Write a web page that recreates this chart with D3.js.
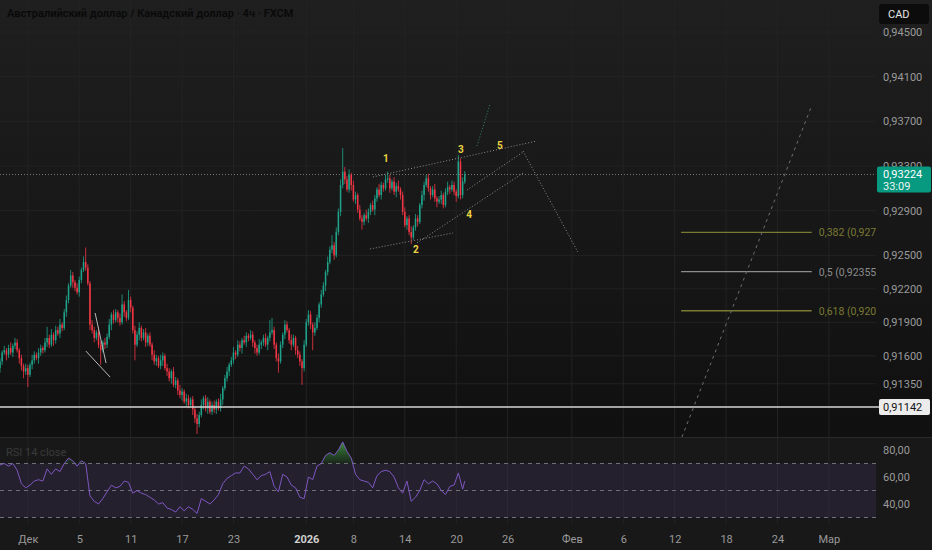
<!DOCTYPE html>
<html>
<head>
<meta charset="utf-8">
<title>AUDCAD 4h</title>
<script src="https://d3js.org/d3.v7.min.js"></script>
<style>
  html, body { margin: 0; background: #141414; overflow: hidden; }
  text { font-family: Roboto, "Noto Sans", sans-serif; }
</style>
</head>
<body>
<div id="chart"></div>
<script>
// 4h bars, bar 0 = first bar at the left edge of the view
const firstOpen = 0.9149;
const closes = [
  0.9155,0.9163,0.9165,0.9161,0.9167,0.9163,0.9169,0.9172,0.9165,0.9158,
  0.9151,0.9146,0.9149,0.9143,0.9152,0.9156,0.9161,0.9158,0.9163,0.9167,
  0.9165,0.9172,0.9176,0.9170,0.9179,0.9174,0.9183,0.9180,0.9188,0.9185,
  0.9199,0.9210,0.9223,0.9232,0.9226,0.9221,0.9217,0.9228,0.9237,0.9244,
  0.9239,0.9225,0.9188,0.9183,0.9176,0.9181,0.9170,0.9165,0.9172,0.9170,
  0.9177,0.9188,0.9197,0.9192,0.9199,0.9194,0.9190,0.9206,0.9199,0.9194,
  0.9210,0.9203,0.9183,0.9170,0.9179,0.9185,0.9176,0.9181,0.9172,0.9178,
  0.9170,0.9161,0.9155,0.9158,0.9151,0.9156,0.9160,0.9149,0.9146,0.9140,
  0.9146,0.9134,0.9138,0.9129,0.9125,0.9128,0.9119,0.9122,0.9116,0.9121,
  0.9112,0.9104,0.9099,0.9107,0.9116,0.9122,0.9113,0.9119,0.9110,0.9116,
  0.9112,0.9119,0.9113,0.9121,0.9131,0.9140,0.9146,0.9152,0.9156,0.9163,
  0.9161,0.9170,0.9167,0.9174,0.9172,0.9178,0.9176,0.9179,0.9172,0.9167,
  0.9163,0.9170,0.9172,0.9176,0.9170,0.9176,0.9181,0.9183,0.9170,0.9158,
  0.9155,0.9170,0.9179,0.9188,0.9183,0.9174,0.9170,0.9176,0.9165,0.9161,
  0.9155,0.9149,0.9170,0.9190,0.9197,0.9188,0.9181,0.9185,0.9194,0.9206,
  0.9215,0.9223,0.9235,0.9244,0.9255,0.9259,0.9250,0.9271,0.9289,0.9313,
  0.9325,0.9318,0.9309,0.9322,0.9313,0.9300,0.9304,0.9291,0.9283,0.9280,
  0.9286,0.9283,0.9289,0.9295,0.9291,0.9301,0.9309,0.9304,0.9313,0.9310,
  0.9318,0.9319,0.9310,0.9316,0.9307,0.9312,0.9309,0.9304,0.9289,0.9277,
  0.9283,0.9271,0.9266,0.9275,0.9283,0.9280,0.9295,0.9304,0.9313,0.9319,
  0.9310,0.9304,0.9309,0.9301,0.9298,0.9300,0.9304,0.9295,0.9307,0.9311,
  0.9309,0.9313,0.9307,0.9303,0.9334,0.9304,0.9316,0.93224
];
// wick lengths in pips above / below the body
const wickHi = [
  3,2,4,2,3,5,2,4,3,2,3,2,4,3,2,5,3,2,4,3,
  2,4,10,3,5,2,4,3,5,2,3,4,2,5,3,2,4,3,2,5,
  13,3,2,4,3,2,5,3,2,4,3,5,2,4,3,2,4,9,3,2,
  9,3,2,4,3,5,2,3,4,2,3,2,4,3,2,5,3,2,4,3,
  2,4,3,2,5,3,2,4,3,2,3,2,4,3,5,2,3,4,2,3,
  4,2,3,5,2,3,4,2,3,5,2,4,3,2,4,3,2,4,3,2,
  3,5,2,3,4,2,11,11,3,2,4,3,2,4,3,2,5,3,2,4,
  3,2,4,3,4,3,2,5,3,2,4,3,2,5,3,9,3,4,3,5,
  21,4,3,5,2,4,3,2,4,3,2,5,3,2,4,3,2,5,3,2,
  4,6,3,2,4,3,5,2,3,4,2,3,5,2,4,3,2,4,3,3,
  4,2,3,5,2,3,4,2,3,5,2,4,3,2,6,3,4,3
];
const wickLo = [
  4,3,2,5,3,2,4,3,2,5,4,6,3,11,2,4,3,2,5,3,
  3,2,4,3,2,5,3,2,4,3,2,4,3,2,5,3,2,4,3,2,
  3,2,5,3,4,2,3,13,2,4,3,2,5,3,2,4,3,2,4,3,
  2,4,3,14,2,5,3,2,4,3,2,5,3,4,2,3,5,2,4,3,
  5,2,3,4,3,5,2,4,3,2,5,4,9,3,2,4,3,5,2,3,
  3,4,2,3,5,2,3,4,2,3,4,2,3,5,2,4,3,2,4,5,
  3,2,4,3,2,5,3,2,4,3,10,2,3,4,2,3,5,2,4,3,
  4,15,3,2,3,4,16,3,2,4,3,2,5,3,2,3,4,2,3,4,
  3,4,2,3,5,2,4,3,2,7,3,2,4,3,2,5,3,2,4,3,
  2,3,4,2,3,5,2,4,3,2,4,3,6,2,3,4,2,3,5,2,
  3,4,2,3,5,2,4,3,2,3,4,2,3,5,2,4,3,2
];

// RSI(14) readings: [bar, value]
const rsiPoints = [
  [0,69],[2,70],[4,68],[6,70],[8,65],[10,55],[12,52],[14,54],[16,57],[18,58],
  [20,57],[22,66],[24,62],[26,66],[28,64],[30,70],[32,74],[34,72],[36,68],[38,72],
  [40,70],[42,46],[44,42],[46,40],[48,44],[50,49],[52,54],[54,52],[56,53],[58,57],
  [60,56],[62,48],[64,50],[66,48],[68,47],[70,45],[72,43],[74,40],[76,41],[78,37],
  [80,36],[82,34],[84,38],[86,35],[88,38],[90,36],[92,33],[94,44],[96,42],[98,40],
  [100,43],[102,47],[104,55],[106,59],[108,61],[110,63],[112,63],[114,68],[116,66],[118,62],
  [120,58],[122,61],[124,62],[126,64],[128,53],[130,49],[132,62],[134,60],[136,54],[138,52],
  [140,45],[142,44],[144,60],[146,58],[148,68],[150,70],[152,76],[154,78],[156,76],[158,80],
  [160,86],[162,79],[164,74],[166,62],[168,58],[170,57],[172,56],[174,52],[176,61],[178,64],
  [180,65],[182,64],[184,60],[186,52],[188,48],[190,57],[192,42],[194,45],[196,50],[198,58],
  [200,55],[202,57],[204,55],[206,50],[208,47],[210,53],[212,54],[214,63],[216,51],[217,57]
];

const priceTicks = [0.945, 0.941, 0.937, 0.933, 0.929, 0.925, 0.922, 0.919, 0.916, 0.9135];
const rsiTicks = [80, 60, 40];
const rsiLevels = [70, 50, 30];
const timeTicks = [
  [13,"Дек"],[37,"5"],[61,"11"],[85,"17"],[109,"23"],[143,"2026"],[165,"8"],[189,"14"],
  [213,"20"],[237,"26"],[267,"Фев"],[291,"6"],[315,"12"],[339,"18"],[363,"24"],[387,"Мар"]
];

const title = "Австралийский доллар / Канадский доллар · 4ч · FXCM";
const currency = "CAD";
const lastPrice = 0.93224;
const countdown = "33:09";
const supportPrice = 0.91142;

const fibLevels = [
  {ratio: "0,382", price: 0.92706, color: "#7b7a33"},
  {ratio: "0,5", price: 0.92355, color: "#8c8c8c"},
  {ratio: "0,618", price: 0.92004, color: "#7b7a33"}
];
const fibFrom = 318, fibTo = 379;

// wave marks: [text, bar, price]
const waveLabels = [
  ["1", 180.2, 0.93372], ["2", 194.2, 0.92557], ["3", 215.2, 0.93452],
  ["4", 219.0, 0.92870], ["5", 233.4, 0.93488]
];
// drawn lines: [bar1, price1, bar2, price2, kind]
const drawings = [
  [172.7, 0.92557, 211.5, 0.92700, "dot"],
  [194.7, 0.92611, 244.2, 0.93237, "dot"],
  [218.0, 0.93085, 244.2, 0.93425, "dot"],
  [174.1, 0.93202, 250.7, 0.93524, "dot"],
  [244.2, 0.93434, 269.8, 0.92530, "dot"],
  [222.7, 0.93479, 228.8, 0.93855, "green"],
  [318.4, 0.90873, 379.1, 0.93846, "dash"],
  [40.1, 0.91643, 51.4, 0.91410, "solid"],
  [44.4, 0.91984, 49.5, 0.91536, "solid"]
];

const W = 932, H = 550;
const plotW = 876, mainBottom = 437, rsiBottom = 524;

const ru = d3.formatLocale({decimal: ",", thousands: " ", grouping: [3], currency: ["", ""]});
const f5 = ru.format(".5f"), f2 = ru.format(".2f");

const svg = d3.select("#chart").append("svg")
  .attr("width", W).attr("height", H);

const defs = svg.append("defs");
const bg = defs.append("linearGradient").attr("id", "bg").attr("x1", 0).attr("y1", 0).attr("x2", 0).attr("y2", 1);
bg.append("stop").attr("offset", "0%").attr("stop-color", "#1f1f1f");
bg.append("stop").attr("offset", "100%").attr("stop-color", "#101010");
const ob = defs.append("linearGradient").attr("id", "ob").attr("gradientUnits", "userSpaceOnUse")
  .attr("x1", 0).attr("x2", 0).attr("y1", mainBottom).attr("y2", 0);
defs.append("clipPath").attr("id", "mainClip").append("rect")
  .attr("x", 0).attr("y", 0).attr("width", plotW).attr("height", mainBottom);
defs.append("clipPath").attr("id", "rsiClip").append("rect")
  .attr("x", 0).attr("y", mainBottom).attr("width", plotW).attr("height", rsiBottom - mainBottom);

svg.append("rect").attr("width", W).attr("height", mainBottom).attr("fill", "url(#bg)");
svg.append("rect").attr("y", mainBottom).attr("width", W).attr("height", H - mainBottom).attr("fill", "#181818");

const x = d3.scaleLinear().domain([0, 409]).range([0, plotW]);
const y = d3.scaleLinear().domain([supportPrice, 0.945]).range([407, 32]);
const yr = d3.scaleLinear().domain([30, 80]).range([517.5, 450]);

// overbought fill: dark at the 70 line, brighter green towards the top
const off = v => (yr(v) - mainBottom + mainBottom) / mainBottom;
ob.attr("y1", yr(70)).attr("y2", yr(88));
ob.append("stop").attr("offset", 0).attr("stop-color", "#2e7d32").attr("stop-opacity", 0.15);
ob.append("stop").attr("offset", 1).attr("stop-color", "#4caf50").attr("stop-opacity", 0.9);

// grid
svg.append("g").selectAll("line").data(priceTicks).join("line")
  .attr("x1", 0).attr("x2", plotW).attr("y1", d => y(d)).attr("y2", d => y(d))
  .attr("stroke", "#232323");
svg.append("g").selectAll("line").data(timeTicks).join("line")
  .attr("x1", d => x(d[0])).attr("x2", d => x(d[0])).attr("y1", 0).attr("y2", rsiBottom)
  .attr("stroke", "#232323");

svg.append("line").attr("x1", 0).attr("x2", W).attr("y1", mainBottom + 0.5).attr("y2", mainBottom + 0.5)
  .attr("stroke", "#2a2a2a");

// title watermark
svg.append("text").attr("x", 7).attr("y", 17).text(title)
  .attr("font-size", 11).attr("font-weight", 600).attr("fill", "#090909");

const main = svg.append("g").attr("clip-path", "url(#mainClip)");

// fib levels
const fib = main.append("g");
fib.selectAll("line").data(fibLevels).join("line")
  .attr("x1", x(fibFrom)).attr("x2", x(fibTo)).attr("y1", d => y(d.price)).attr("y2", d => y(d.price))
  .attr("stroke", d => d.color).attr("stroke-width", 1.3);
fib.selectAll("text").data(fibLevels).join("text")
  .attr("x", x(fibTo) + 7).attr("y", d => y(d.price) + 4)
  .attr("fill", d => d.color).attr("font-size", 10.5)
  .text(d => `${d.ratio} (${f5(d.price)})`);

// price lines
main.append("line").attr("x1", 0).attr("x2", plotW).attr("y1", y(lastPrice)).attr("y2", y(lastPrice))
  .attr("stroke", "#6f7a78").attr("stroke-dasharray", "1,2");
svg.append("line").attr("x1", 0).attr("x2", 880).attr("y1", y(supportPrice)).attr("y2", y(supportPrice))
  .attr("stroke", "#d6d6d6").attr("stroke-width", 1.6);

// candles
const candles = closes.map((c, i) => {
  const o = i ? closes[i - 1] : firstOpen;
  return {i, o, c, h: Math.max(o, c) + wickHi[i] * 1e-4, l: Math.min(o, c) - wickLo[i] * 1e-4};
});
const col = d => d.c >= d.o ? "#1fa38a" : "#f23645";
const cg = main.append("g");
cg.selectAll("line").data(candles).join("line")
  .attr("x1", d => x(d.i)).attr("x2", d => x(d.i))
  .attr("y1", d => y(d.h)).attr("y2", d => y(d.l))
  .attr("stroke", col).attr("stroke-width", 0.8);
cg.selectAll("rect").data(candles).join("rect")
  .attr("x", d => x(d.i) - 0.75).attr("width", 1.5)
  .attr("y", d => y(Math.max(d.o, d.c)))
  .attr("height", d => Math.max(1, Math.abs(y(d.o) - y(d.c))))
  .attr("fill", col);

// drawings
const dstyle = {
  dot: {stroke: "#8d8d8d", dash: "1,2", w: 1},
  green: {stroke: "#2f8a66", dash: "1,2", w: 1},
  dash: {stroke: "#6e6e6e", dash: "3,4", w: 1},
  solid: {stroke: "#b8b8b8", dash: null, w: 1}
};
main.append("g").selectAll("line").data(drawings).join("line")
  .attr("x1", d => x(d[0])).attr("y1", d => y(d[1]))
  .attr("x2", d => x(d[2])).attr("y2", d => y(d[3]))
  .attr("stroke", d => dstyle[d[4]].stroke)
  .attr("stroke-dasharray", d => dstyle[d[4]].dash)
  .attr("stroke-width", d => dstyle[d[4]].w);

main.append("g").selectAll("text").data(waveLabels).join("text")
  .attr("x", d => x(d[1])).attr("y", d => y(d[2]) + 4)
  .attr("text-anchor", "middle").attr("font-size", 10).attr("font-weight", 700)
  .attr("fill", "#ecd444").text(d => d[0]);

// RSI pane
const rsi = svg.append("g").attr("clip-path", "url(#rsiClip)");
rsi.append("rect").attr("x", 0).attr("width", plotW)
  .attr("y", yr(70)).attr("height", yr(30) - yr(70)).attr("fill", "rgba(126,87,194,0.12)");
rsi.selectAll("line.lvl").data(rsiLevels).join("line").attr("class", "lvl")
  .attr("x1", 0).attr("x2", plotW).attr("y1", d => yr(d)).attr("y2", d => yr(d))
  .attr("stroke", "#6f6f78").attr("stroke-dasharray", "4,4");
rsi.append("path").datum(rsiPoints)
  .attr("d", d3.area().x(d => x(d[0])).y0(yr(70)).y1(d => yr(Math.max(70, d[1]))))
  .attr("fill", "url(#ob)");
rsi.append("path").datum(rsiPoints)
  .attr("d", d3.line().x(d => x(d[0])).y(d => yr(d[1])))
  .attr("fill", "none").attr("stroke", "#7e57c2").attr("stroke-width", 1);
svg.append("text").attr("x", 6).attr("y", 456).text("RSI 14 close")
  .attr("font-size", 11).attr("fill", "#3a3a3a");

// price axis
const pAxis = svg.append("g").attr("transform", `translate(${plotW},0)`)
  .call(d3.axisRight(y).tickValues(priceTicks).tickFormat(f5).tickSize(0).tickPadding(7));
pAxis.select(".domain").remove();
pAxis.selectAll("text").attr("fill", "#9a9a9a").attr("font-size", 11).attr("font-family", "Roboto, sans-serif");

const rAxis = svg.append("g").attr("transform", `translate(${plotW},0)`)
  .call(d3.axisRight(yr).tickValues(rsiTicks).tickFormat(f2).tickSize(0).tickPadding(7));
rAxis.select(".domain").remove();
rAxis.selectAll("text").attr("fill", "#9a9a9a").attr("font-size", 11).attr("font-family", "Roboto, sans-serif");

// time axis
const tAxis = svg.append("g").attr("transform", `translate(0,${rsiBottom})`)
  .call(d3.axisBottom(x).tickValues(timeTicks.map(d => d[0]))
    .tickFormat(v => timeTicks.find(t => t[0] === v)[1]).tickSize(0).tickPadding(11));
tAxis.select(".domain").remove();
tAxis.selectAll("text").attr("font-size", 11).attr("font-family", "Roboto, sans-serif")
  .attr("font-weight", d => d === 143 ? 700 : 400)
  .attr("fill", d => d === 143 ? "#d0d0d0" : "#9a9a9a");

// currency box
svg.append("rect").attr("x", 879).attr("y", 4).attr("width", 50).attr("height", 20).attr("rx", 3).attr("fill", "#0c0c0c");
svg.append("text").attr("x", 888).attr("y", 18).text(currency).attr("font-size", 11).attr("fill", "#e6e6e6");

// last price badge (drawn over the axis label it hides)
const yl = y(lastPrice);
svg.append("rect").attr("x", 877).attr("y", yl - 8).attr("width", 54).attr("height", 26).attr("rx", 2).attr("fill", "#089981");
svg.append("text").attr("x", 883).attr("y", yl + 4).text(f5(lastPrice)).attr("font-size", 11).attr("fill", "#ffffff");
svg.append("text").attr("x", 883).attr("y", yl + 16).text(countdown).attr("font-size", 11).attr("fill", "#e8f5f1");

// support badge
const ys = y(supportPrice);
svg.append("rect").attr("x", 879).attr("y", ys - 8).attr("width", 51).attr("height", 16).attr("rx", 2).attr("fill", "#ececec");
svg.append("text").attr("x", 883).attr("y", ys + 4).text(f5(supportPrice)).attr("font-size", 11).attr("fill", "#131313");
</script>
</body>
</html>
